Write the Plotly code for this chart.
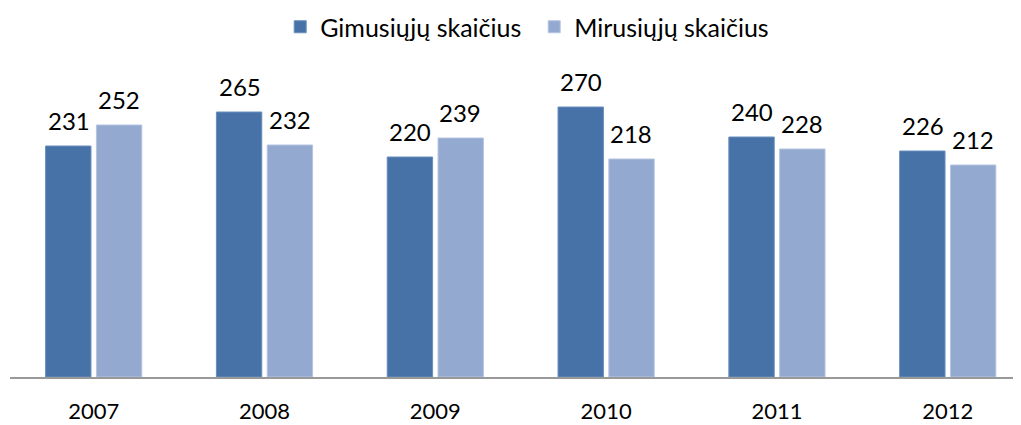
import plotly.graph_objects as go

years = ["2007", "2008", "2009", "2010", "2011", "2012"]
gimusiuju = [231, 265, 220, 270, 240, 226]
mirusiuju = [252, 232, 239, 218, 228, 212]

font_family = "Lato, 'Open Sans', sans-serif"

fig = go.Figure()
fig.add_trace(go.Bar(
    x=years, y=gimusiuju, name="Gimusiųjų skaičius",
    marker=dict(color="#4672A7", line=dict(color="#6A8EBD", width=1)),
))
fig.add_trace(go.Bar(
    x=years, y=mirusiuju, name="Mirusiųjų skaičius",
    marker=dict(color="#94A9D0", line=dict(color="#B4C4E0", width=1)),
))

annotations = []
for series, shift in ((gimusiuju, -25), (mirusiuju, 25)):
    for i, v in enumerate(series):
        annotations.append(dict(
            x=i, y=v, xref="x", yref="y", text=str(v), showarrow=False,
            xshift=shift, yshift=9, yanchor="bottom", xanchor="center",
            font=dict(size=24, color="#000000", family=font_family),
        ))

W, H = 1013, 417
fig.update_layout(
    width=W, height=H,
    margin=dict(l=2, r=1, t=69, b=48, autoexpand=False),
    paper_bgcolor="white", plot_bgcolor="white",
    barmode="group", bargap=0.405, bargroupgap=0.107,
    font=dict(family=font_family, size=22, color="#000000"),
    showlegend=True,
    annotations=annotations,
    legend=dict(orientation="h", x=0.519, xanchor="center",
                yref="container", y=1 - 19 / H, yanchor="middle",
                font=dict(size=25, family=font_family),
                entrywidth=209, entrywidthmode="pixels",
                traceorder="normal"),
    xaxis=dict(type="category", range=[-0.49, 5.423],
               showline=True, linecolor="#999999", linewidth=2,
               ticks="outside", ticklen=14, tickcolor="rgba(0,0,0,0)",
               tickfont=dict(size=22), showgrid=False, zeroline=False,
               automargin=False),
    yaxis=dict(range=[0, 300], visible=False, showgrid=False, zeroline=False,
               automargin=False),
)

fig.write_html("out.html")
